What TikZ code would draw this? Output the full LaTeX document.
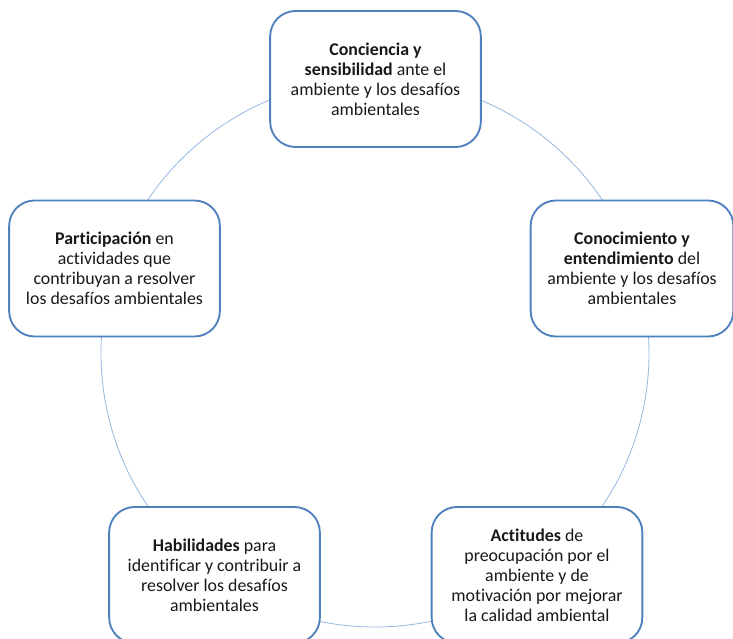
\documentclass[tikz,border=0pt]{standalone}
\usepackage{fontspec}
\setmainfont[Ligatures=NoCommon]{Carlito}
\definecolor{boxblue}{RGB}{79,129,189}
\definecolor{ringblue}{RGB}{149,183,222}
\tikzstyle{ringline}=[draw=ringblue,line width=0.6pt]
\tikzstyle{topicbox}=[draw=boxblue,line width=1.4pt,fill=white,rounded corners=19pt,
  minimum width=158pt,minimum height=102pt,align=center,
  font=\fontsize{13.4}{15}\selectfont,text=black!90]

\begin{document}
\begin{tikzpicture}[x=0.75pt,y=-0.75pt]
  \clip (0,0) rectangle (733,639);
  \useasboundingbox (0,0) rectangle (733,639);

  \coordinate (hub) at (375,353);
  \draw[ringline] (hub) circle (274);

  \node[topicbox] (conciencia) at (375.5,79)
    {\textbf{Conciencia y}\\ \textbf{sensibilidad} ante el\\ ambiente y los desafíos\\ ambientales};
  \node[topicbox,minimum width=152pt] (conocimiento) at (632,268.5)
    {\textbf{Conocimiento y}\\ \textbf{entendimiento} del\\ ambiente y los desafíos\\ ambientales};
  \node[topicbox] (actitudes) at (537,575)
    {\textbf{Actitudes} de\\ preocupación por el\\ ambiente y de\\ motivación por mejorar\\ la calidad ambiental};
  \node[topicbox] (habilidades) at (214.5,575)
    {\textbf{Habilidades} para\\ identificar y contribuir a\\ resolver los desafíos\\ ambientales};
  \node[topicbox] (participacion) at (114.5,268.5)
    {\textbf{Participación} en\\ actividades que\\ contribuyan a resolver\\ los desafíos ambientales};

\end{tikzpicture}
\end{document}
